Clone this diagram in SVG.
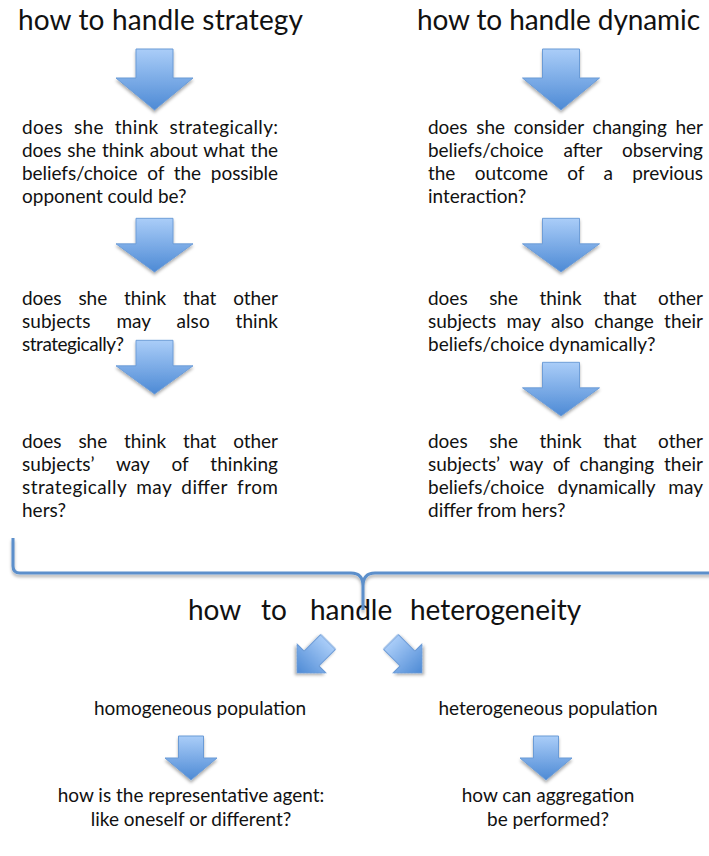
<svg xmlns="http://www.w3.org/2000/svg" width="709" height="856" viewBox="0 0 709 856">
<defs>
<linearGradient id="ag" x1="0" y1="0" x2="0" y2="1">
<stop offset="0" stop-color="#aacdf8"/>
<stop offset="1" stop-color="#4d8ad5"/>
</linearGradient>
<filter id="sh" x="-20%" y="-20%" width="140%" height="150%">
<feDropShadow dx="0" dy="2.5" stdDeviation="1.6" flood-color="#000" flood-opacity="0.32"/>
</filter>
<path id="dn" d="M-18.5 -61 H18.5 V-32 H38.5 L0 0 L-38.5 -32 H-18.5 Z"/>
<path id="sm" d="M-10.5 -44 H10.5 V-20.5 H20.5 L0 0 L-20.5 -20.5 H-10.5 Z"/>
<path id="bt" d="M-12.5 -44 H12.5 V-22 H26 L0 0 L-26 -22 H-12.5 Z"/>
</defs>
<style>
.t{font-family:Lato,"Open Sans","Liberation Sans",sans-serif;fill:#111;}
.h{font-size:28px;}
.b{font-size:19px;}
.c{text-anchor:middle;}
.arw{fill:url(#ag);stroke:#6b9bd6;stroke-width:1;filter:url(#sh);}
.brace{fill:none;stroke:#5b8fcb;stroke-width:3;filter:url(#sh);}
</style>
<rect width="709" height="856" fill="#fff"/>

<g id="title-strategy"><text class="t h" x="18" y="30" textLength="285" lengthAdjust="spacing">how to handle strategy</text></g>
<g id="title-dynamic"><text class="t h" x="417" y="30" textLength="283" lengthAdjust="spacing">how to handle dynamic</text></g>

<g id="s1" class="t b">
<text x="22" y="134" word-spacing="5.8" textLength="256" lengthAdjust="spacing">does she think strategically:</text>
<text x="22" y="157" word-spacing="1" textLength="256" lengthAdjust="spacing">does she think about what the</text>
<text x="22" y="180" word-spacing="5" textLength="256" lengthAdjust="spacing">beliefs/choice of the possible</text>
<text x="22" y="203">opponent could be?</text>
</g>
<g id="s2" class="t b">
<text x="22" y="305" word-spacing="12" textLength="256" lengthAdjust="spacing">does she think that other</text>
<text x="22" y="328" word-spacing="21" textLength="256" lengthAdjust="spacing">subjects may also think</text>
<text x="22" y="351" textLength="102" lengthAdjust="spacing">strategically?</text>
</g>
<g id="s3" class="t b">
<text x="22" y="448" word-spacing="12" textLength="256" lengthAdjust="spacing">does she think that other</text>
<text x="22" y="471" word-spacing="17" textLength="256" lengthAdjust="spacing">subjects’ way of thinking</text>
<text x="22" y="494" word-spacing="4.3" textLength="256" lengthAdjust="spacing">strategically may differ  from</text>
<text x="22" y="517">hers?</text>
</g>

<g id="d1" class="t b">
<text x="428" y="134" word-spacing="4" textLength="275" lengthAdjust="spacing">does she consider changing her</text>
<text x="428" y="157" word-spacing="15" textLength="275" lengthAdjust="spacing">beliefs/choice after observing</text>
<text x="428" y="180" word-spacing="14.5" textLength="275" lengthAdjust="spacing">the outcome of a previous</text>
<text x="428" y="203">interaction?</text>
</g>
<g id="d2" class="t b">
<text x="428" y="305" word-spacing="16.7" textLength="275" lengthAdjust="spacing">does she think that other</text>
<text x="428" y="328" word-spacing="5.5" textLength="275" lengthAdjust="spacing">subjects may also change their</text>
<text x="428" y="351">beliefs/choice dynamically?</text>
</g>
<g id="d3" class="t b">
<text x="428" y="448" word-spacing="16.7" textLength="275" lengthAdjust="spacing">does she think that other</text>
<text x="428" y="471" word-spacing="5" textLength="275" lengthAdjust="spacing">subjects’ way of changing their</text>
<text x="428" y="494" word-spacing="8.5" textLength="275" lengthAdjust="spacing">beliefs/choice dynamically may</text>
<text x="428" y="517">differ from hers?</text>
</g>

<g id="title-heterogeneity" class="t h">
<text y="620"><tspan x="188">how</tspan><tspan x="261">to</tspan><tspan x="310">handle</tspan><tspan x="410">heterogeneity</tspan></text>
</g>

<g id="homogeneous" class="t b c"><text x="200" y="715">homogeneous population</text></g>
<g id="heterogeneous" class="t b c"><text x="548" y="715">heterogeneous population</text></g>
<g id="representative" class="t b c">
<text x="191" y="802">how is the representative agent:</text>
<text x="191" y="826">like oneself or different?</text>
</g>
<g id="aggregation" class="t b c">
<text x="548" y="802">how can aggregation</text>
<text x="548" y="826">be performed?</text>
</g>

<g id="connectors">
<use href="#dn" class="arw" transform="translate(154.5 110)"/>
<use href="#dn" class="arw" transform="translate(154.5 272) scale(1 0.88)"/>
<use href="#dn" class="arw" transform="translate(154.5 394) scale(1 0.88)"/>
<use href="#dn" class="arw" transform="translate(561 110)"/>
<use href="#dn" class="arw" transform="translate(561 272) scale(1 0.88)"/>
<use href="#dn" class="arw" transform="translate(561 416) scale(1 0.88)"/>
<path class="brace" d="M13 538 V566 Q13 573 20 573 H351 Q363 573 363 586 V610 M363 586 Q363 573 375 573 H715"/>
<use href="#sm" class="arw" transform="translate(297 673) rotate(45)"/>
<use href="#sm" class="arw" transform="translate(422 673) rotate(-45)"/>
<use href="#bt" class="arw" transform="translate(191 780)"/>
<use href="#bt" class="arw" transform="translate(546 780)"/>
</g>
</svg>
